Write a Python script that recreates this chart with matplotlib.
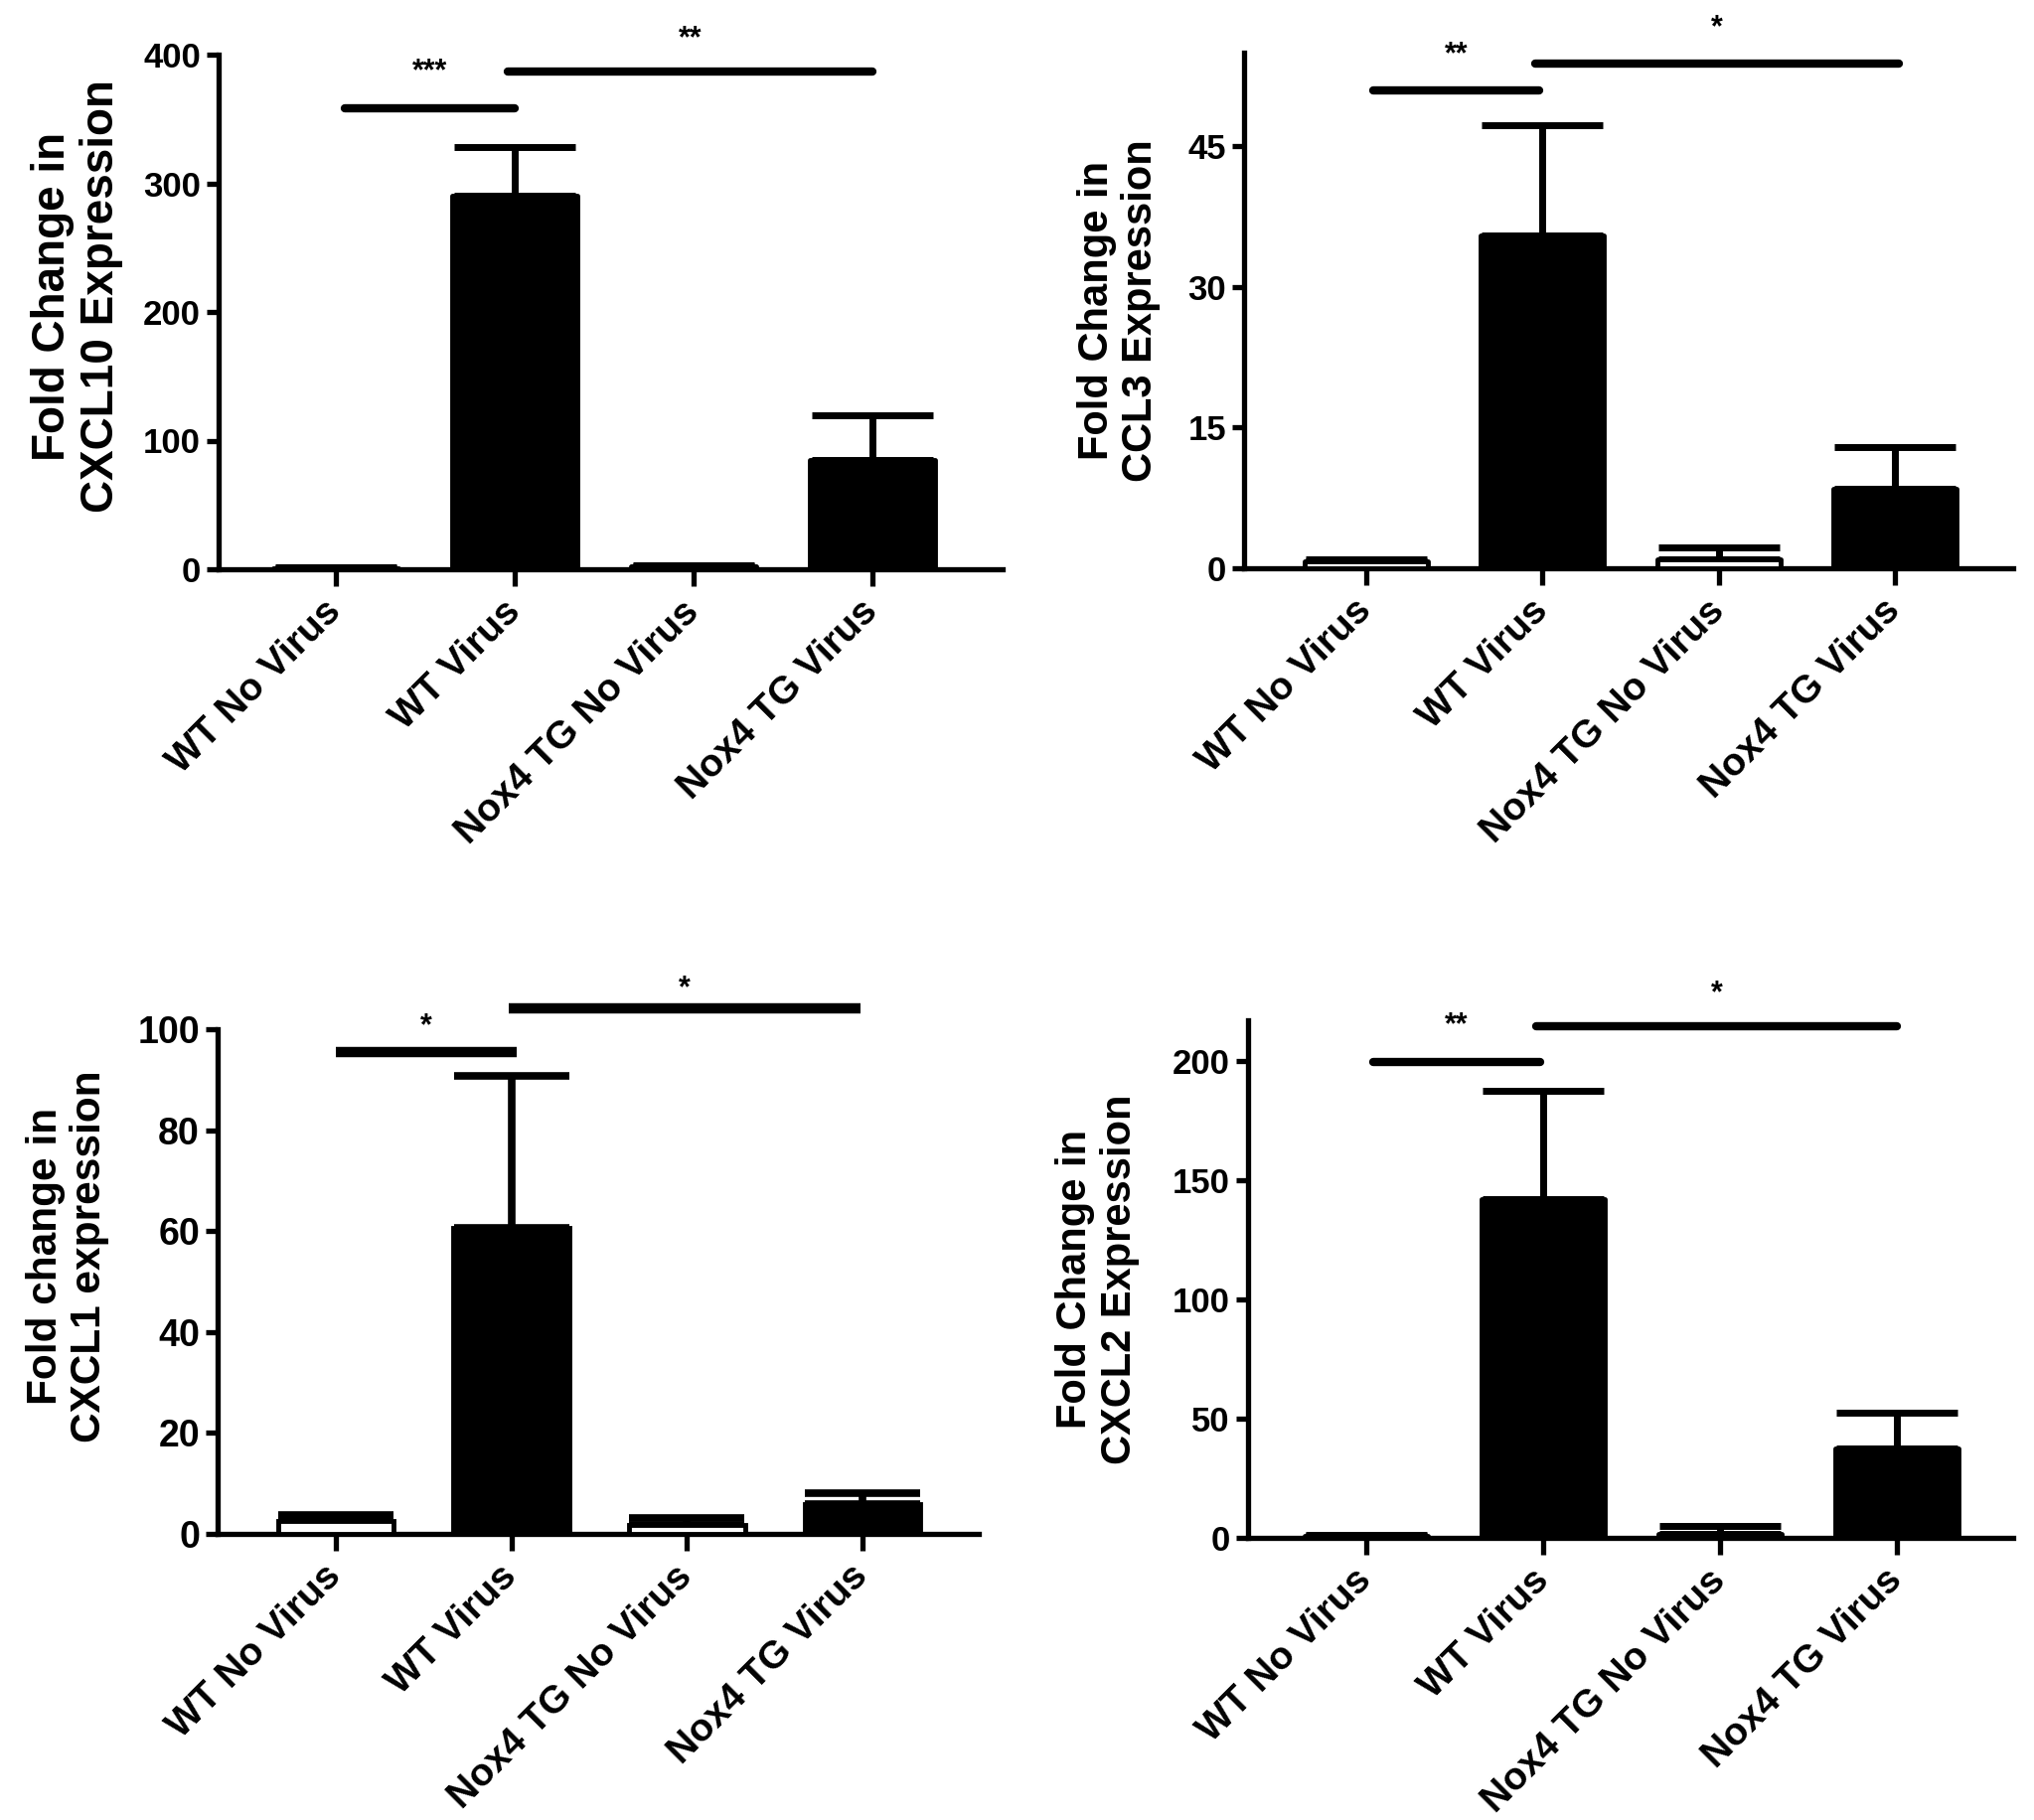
import matplotlib
matplotlib.use("Agg")
import matplotlib.pyplot as plt
import numpy as np

plt.rcParams['font.family'] = ['Liberation Sans', 'DejaVu Sans']
plt.rcParams['font.weight'] = 'bold'

categories = ['WT No Virus', 'WT Virus', 'Nox4 TG No Virus', 'Nox4 TG Virus']
fill_colors = ['white', 'black', 'white', 'black']

cxcl10_mean = [1.0, 290.0, 2.0, 85.0]
cxcl10_err = [0.5, 38.0, 0.8, 35.0]

ccl3_mean = [0.7, 35.5, 1.0, 8.5]
ccl3_err = [0.3, 11.8, 1.2, 4.4]

cxcl1_mean = [2.6, 60.6, 1.8, 5.9]
cxcl1_err = [1.1, 30.1, 1.3, 2.2]

cxcl2_mean = [0.8, 142.0, 1.5, 37.5]
cxcl2_err = [0.4, 45.5, 3.5, 15.0]

# significance brackets: (x_start, x_end, y_line, label, y_label)
cxcl10_sig = [(0.05, 1.0, 358, '***', 387), (0.96, 3.0, 387, '**', 412)]
ccl3_sig = [(0.04, 0.98, 51.0, '**', 54.8), (0.96, 3.02, 53.8, '*', 57.6)]
cxcl1_sig = [(0.0, 1.03, 95.5, '*', 100.6), (0.985, 2.99, 104.1, '*', 108.0)]
cxcl2_sig = [(0.04, 0.98, 199.6, '**', 215), (0.96, 3.0, 214.6, '*', 228)]

W, H = 2047, 1832
fig = plt.figure(figsize=(W / 100, H / 100), dpi=100)


def px_axes(l, r, b, t):
    return fig.add_axes([l / W, 1 - b / H, (r - l) / W, (b - t) / H])


panels = [
    dict(box=(220, 1009, 573, 55), mean=cxcl10_mean, err=cxcl10_err, sig=cxcl10_sig,
         ylim=(0, 400), yticks=[0, 100, 200, 300, 400],
         xlim=(-0.656, 3.728), ylabel='Fold Change in\nCXCL10 Expression', labx=-0.122, laby=0.53,
         labsize=33, width=0.7, narrow=False, sig_capstyle='round', sig_lw=6.0, elw=5.0, cap=44),
    dict(box=(1252, 2026, 572, 53), mean=ccl3_mean, err=ccl3_err, sig=ccl3_sig,
         ylim=(0, 55), yticks=[0, 15, 30, 45],
         xlim=(-0.694, 3.671), ylabel='Fold Change in\nCCL3 Expression', labx=-0.108, laby=0.5,
         labsize=30, width=0.7, narrow=False, sig_capstyle='round', sig_lw=6.0, elw=5.0, cap=44),
    dict(box=(219, 985, 1544, 1036), mean=cxcl1_mean, err=cxcl1_err, sig=cxcl1_sig,
         ylim=(0, 100), yticks=[0, 20, 40, 60, 80, 100],
         xlim=(-0.673, 3.662), ylabel='Fold change in\nCXCL1 expression', labx=-0.142, laby=0.55,
         labsize=30.5, width=0.66, narrow=True, sig_capstyle='butt', sig_lw=7.5, elw=5.5, cap=42),
    dict(box=(1256, 2026, 1548, 1027), mean=cxcl2_mean, err=cxcl2_err, sig=cxcl2_sig,
         ylim=(0, 217), yticks=[0, 50, 100, 150, 200],
         xlim=(-0.669, 3.657), ylabel='Fold Change in\nCXCL2 Expression', labx=-0.142, laby=0.5,
         labsize=30, width=0.7, narrow=False, sig_capstyle='round', sig_lw=6.0, elw=5.0, cap=44),
]

for p in panels:
    ax = px_axes(*p['box'])
    x = np.arange(len(categories))
    bars = ax.bar(x, p['mean'], width=p['width'], color=fill_colors,
                  edgecolor='black', linewidth=3.5, zorder=3)
    for b in bars:
        b.set_joinstyle('round' if not p['narrow'] else 'miter')
    lower = np.zeros(len(categories))
    ax.errorbar(x, p['mean'], yerr=[lower, p['err']], fmt='none',
                ecolor='black', elinewidth=p['elw'], capsize=p['cap'],
                capthick=p['elw'], zorder=2)
    ax.set_xlim(*p['xlim'])
    ax.set_ylim(*p['ylim'])
    ax.set_yticks(p['yticks'])
    ax.set_xticks(x)
    ax.set_xticklabels(categories, rotation=45, ha='right', va='center',
                       rotation_mode='anchor', fontsize=28, fontweight='bold')
    if p['narrow']:
        ax.set_yticklabels([str(v) for v in p['yticks']],
                           fontdict=dict(family=['Liberation Sans Narrow', 'Liberation Sans'],
                                         size=27, weight='bold'))
    else:
        ax.set_yticklabels([str(v) for v in p['yticks']], fontsize=25, fontweight='bold')
    ax.tick_params(axis='y', length=9, width=3.8, pad=4)
    ax.tick_params(axis='x', length=12, width=3.8, pad=15)
    for s in ['top', 'right']:
        ax.spines[s].set_visible(False)
    for s in ['left', 'bottom']:
        ax.spines[s].set_linewidth(3.8)
    ax.set_ylabel(p['ylabel'], fontsize=p['labsize'], fontweight='bold', linespacing=1.15)
    ax.yaxis.set_label_coords(p['labx'], p['laby'])
    for (x1, x2, yl, lab, yt) in p['sig']:
        ax.plot([x1, x2], [yl, yl], color='black', lw=p['sig_lw'],
                solid_capstyle=p['sig_capstyle'], clip_on=False, zorder=4)
        ax.text((x1 + x2) / 2, yt, lab, ha='center', va='center',
                fontsize=22, fontweight='bold', clip_on=False)

fig.savefig('out.png', dpi=100, facecolor='white')
